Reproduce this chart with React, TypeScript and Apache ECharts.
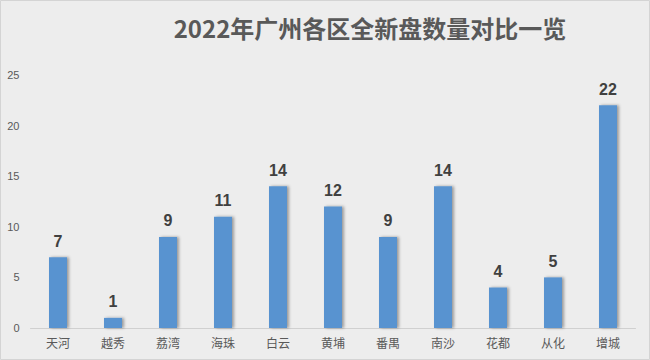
import React, { useEffect, useRef } from "react";
import * as echarts from "echarts";

const categories = ["天河", "越秀", "荔湾", "海珠", "白云", "黄埔", "番禺", "南沙", "花都", "从化", "增城"];
const values = [7, 1, 9, 11, 14, 12, 9, 14, 4, 5, 22];
const titleText = "2022年广州各区全新盘数量对比一览";

export default function App() {
  const ref = useRef<HTMLDivElement>(null);
  useEffect(() => {
    document.body.style.margin = "0";
    const chart = echarts.init(ref.current!, null, { renderer: "svg" });
    chart.setOption({
      animation: false,
      backgroundColor: "#ededed",
      title: {
        text: titleText,
        left: 365,
        top: 10,
        textAlign: "center",
        textStyle: {
          fontFamily: "Noto Sans CJK SC",
          fontSize: 24,
          fontWeight: "bold",
          color: "#595959",
        },
      },
      graphic: [
        {
          type: "rect",
          shape: { x: 0.5, y: 0.5, width: 649, height: 359 },
          style: { fill: "none", stroke: "#d4d4d4", lineWidth: 1 },
          silent: true,
        },
      ],
      grid: { left: 30.5, right: 14.5, top: 75, bottom: 32, containLabel: false },
      xAxis: {
        type: "category",
        data: categories,
        axisLine: { lineStyle: { color: "#d0d0d0", width: 1 } },
        axisTick: { show: false },
        axisLabel: {
          color: "#595959",
          fontSize: 12,
          fontFamily: "Noto Sans CJK SC",
          margin: 8,
        },
      },
      yAxis: {
        type: "value",
        min: 0,
        max: 25,
        interval: 5,
        axisLine: { show: false },
        axisTick: { show: false },
        splitLine: { show: false },
        axisLabel: {
          color: "#595959",
          fontSize: 11,
          fontFamily: "Liberation Sans",
          margin: 11,
        },
      },
      series: [
        {
          type: "bar",
          data: values,
          barWidth: 18,
          itemStyle: {
            color: "#5993d0",
            shadowColor: "rgba(0,0,0,0.35)",
            shadowBlur: 3,
            shadowOffsetX: 2,
            shadowOffsetY: 0,
          },
          label: {
            show: true,
            position: "top",
            distance: 8,
            color: "#404040",
            fontSize: 16,
            fontWeight: "bold",
            fontFamily: "Liberation Sans",
          },
        },
      ],
    });
    return () => chart.dispose();
  }, []);
  return <div ref={ref} style={{ width: 650, height: 360 }} />;
}
